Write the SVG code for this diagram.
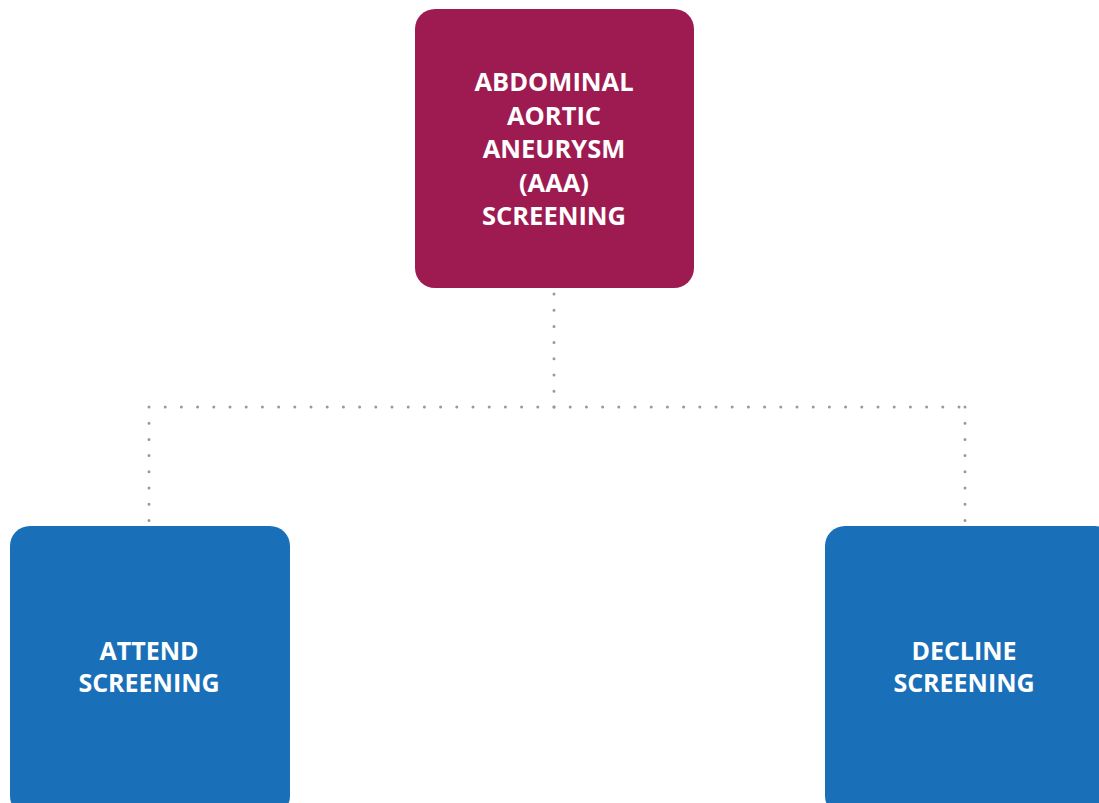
<svg xmlns="http://www.w3.org/2000/svg" width="1099" height="803" viewBox="0 0 1099 803">
<style>
.box-top{fill:#9e1b52}
.box-blue{fill:#1a70b8}
.lbl{font-family:"Open Sans","Liberation Sans",sans-serif;font-weight:bold;fill:#ffffff;text-anchor:middle}
.lt{font-size:25.5px}
.lb{font-size:25px}
.dot{fill:none;stroke:#9a9a9a;stroke-width:3;stroke-linecap:round;stroke-dasharray:0 16.2}
</style>
<rect width="1099" height="803" fill="#ffffff"/>
<g id="connectors">
<path class="dot" d="M554 294 V407"/>
<path class="dot" d="M554 407 H149"/>
<path class="dot" d="M554 407 H965"/>
<path class="dot" d="M149 407 V524"/>
<path class="dot" d="M965 407 V524"/>
</g>
<g id="node-aaa">
<rect class="box-top" x="415" y="9" width="279" height="279" rx="20"/>
<text class="lbl lt" x="554" y="91">ABDOMINAL</text>
<text class="lbl lt" x="554" y="124.5">AORTIC</text>
<text class="lbl lt" x="554" y="158">ANEURYSM</text>
<text class="lbl lt" x="554" y="191.5">(AAA)</text>
<text class="lbl lt" x="554" y="225">SCREENING</text>
</g>
<g id="node-attend">
<rect class="box-blue" x="10" y="526" width="280" height="290" rx="20"/>
<text class="lbl lb" x="149" y="660">ATTEND</text>
<text class="lbl lb" x="149" y="692">SCREENING</text>
</g>
<g id="node-decline">
<rect class="box-blue" x="825" y="526" width="290" height="290" rx="20"/>
<text class="lbl lb" x="964" y="660">DECLINE</text>
<text class="lbl lb" x="964" y="692">SCREENING</text>
</g>
</svg>
